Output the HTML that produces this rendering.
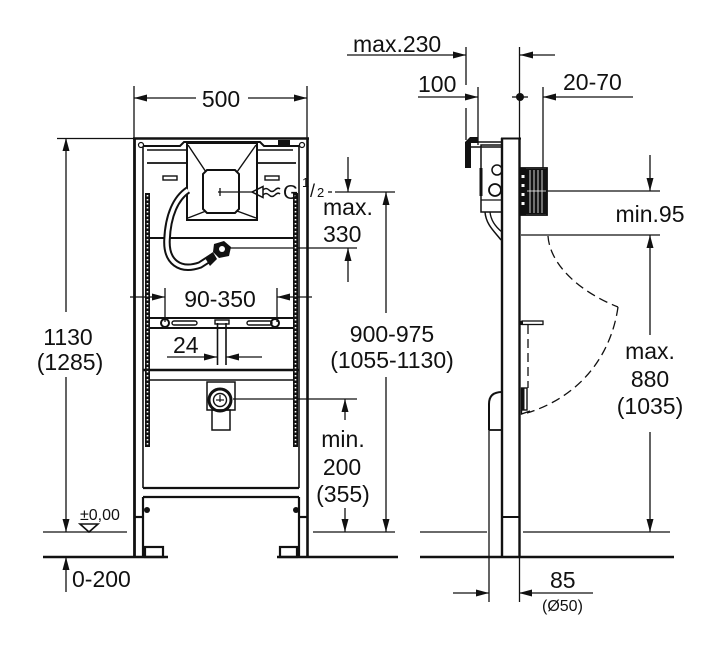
<!DOCTYPE html>
<html><head><meta charset="utf-8"><style>
html,body{margin:0;padding:0;background:#fff;}
svg{display:block;}
text{font-family:"Liberation Sans",Arial,sans-serif;fill:#111;font-size:23px;}
</style></head><body>
<svg width="720" height="649" viewBox="0 0 720 649" xmlns="http://www.w3.org/2000/svg">
<rect width="720" height="649" fill="#fff"/>

<!-- ===== LEFT: dimension lines ===== -->
<g stroke="#111" fill="none" stroke-width="1.3">
  <line x1="134" y1="86" x2="134" y2="138"/>
  <line x1="307" y1="86" x2="307" y2="138"/>
  <line x1="134" y1="98" x2="196" y2="98"/>
  <line x1="248" y1="98" x2="307" y2="98"/>
  <line x1="57" y1="138.5" x2="134" y2="138.5"/>
  <line x1="66" y1="138" x2="66" y2="312"/>
  <line x1="66" y1="377" x2="66" y2="532"/>
  <line x1="66" y1="557" x2="66" y2="592"/>
  <line x1="43" y1="532" x2="127" y2="532"/>
  <line x1="313" y1="532" x2="395" y2="532"/>
  <!-- 90-350 -->
  <line x1="165" y1="288" x2="165" y2="322"/>
  <line x1="277" y1="288" x2="277" y2="322"/>
  <line x1="130" y1="297" x2="165" y2="297"/>
  <line x1="277" y1="297" x2="312" y2="297"/>
  <!-- 24 -->
  <line x1="167" y1="357" x2="217" y2="357"/>
  <line x1="226" y1="357" x2="262" y2="357"/>
  <!-- max 330 -->
  <line x1="335" y1="192" x2="395" y2="192"/>
  <line x1="348" y1="157" x2="348" y2="192"/>
  <line x1="230" y1="248" x2="357" y2="248"/>
  <line x1="348" y1="248" x2="348" y2="282"/>
  <!-- 900-975 -->
  <line x1="386" y1="192" x2="386" y2="313"/>
  <line x1="386" y1="377" x2="386" y2="532"/>
  <!-- min 200 -->
  <line x1="233" y1="399" x2="357" y2="399"/>
  <line x1="345" y1="399" x2="345" y2="420"/>
  <line x1="345" y1="508" x2="345" y2="532"/>
  <polygon points="80,524 98,524 89,532" stroke-width="1.6"/>
  <line x1="218" y1="192" x2="253" y2="192"/>
  <line x1="220" y1="188" x2="220" y2="196"/>
</g>
<line x1="43" y1="557" x2="168" y2="557" stroke="#111" stroke-width="2.6"/>
<line x1="277" y1="557" x2="398" y2="557" stroke="#111" stroke-width="2.6"/>

<!-- ===== LEFT: frame ===== -->
<g stroke="#111" fill="none" stroke-width="2.2">
  <line x1="133" y1="138.5" x2="309" y2="138.5" stroke-width="2.6"/>
  <line x1="134.5" y1="138" x2="134.5" y2="557" stroke-width="2.8"/>
  <line x1="307.5" y1="138" x2="307.5" y2="557" stroke-width="2.6"/>
  <line x1="143" y1="146" x2="143" y2="488" stroke-width="1.6"/>
  <line x1="143" y1="497" x2="143" y2="557"/>
  <line x1="299" y1="146" x2="299" y2="488" stroke-width="1.6"/>
  <line x1="299" y1="497" x2="299" y2="557"/>
  <line x1="143" y1="488" x2="299" y2="488"/>
  <line x1="143" y1="497" x2="299" y2="497"/>
  <line x1="135" y1="517" x2="143" y2="517"/>
  <line x1="299" y1="517" x2="308" y2="517"/>
  <rect x="145" y="547" width="18" height="10"/>
  <rect x="280" y="547" width="17" height="10"/>
  <polyline points="143,146 180,146 184,142 260,142 264,146 299,146" stroke-width="2"/>
  <!-- rails -->
  <line x1="147" y1="150" x2="187" y2="150" stroke-width="1.6"/>
  <line x1="257" y1="150" x2="293" y2="150" stroke-width="1.6"/>
  <line x1="147" y1="163" x2="187" y2="163" stroke-width="1.8"/>
  <line x1="257" y1="163" x2="296" y2="163" stroke-width="1.8"/>
  <rect x="163" y="176" width="14" height="4" stroke-width="1.4"/>
  <rect x="265" y="176" width="14" height="4" stroke-width="1.4"/>
  <line x1="150" y1="238" x2="293" y2="238" stroke-width="2"/>
  <!-- bracket -->
  <line x1="150" y1="318" x2="293" y2="318" stroke-width="2"/>
  <line x1="150" y1="328" x2="293" y2="328" stroke-width="2"/>
  <rect x="172" y="321" width="25" height="4" rx="2" stroke-width="1.4"/>
  <rect x="247" y="321" width="25" height="4" rx="2" stroke-width="1.4"/>
  <circle cx="165" cy="323" r="4" stroke-width="2"/>
  <circle cx="275" cy="323" r="4" stroke-width="2"/>
  <line x1="217.5" y1="323" x2="217.5" y2="365" stroke-width="1.6"/>
  <line x1="226" y1="323" x2="226" y2="365" stroke-width="1.6"/>
  <rect x="215" y="320" width="14" height="4" stroke-width="1.4"/>
  <line x1="143" y1="370" x2="299" y2="370" stroke-width="2.6"/>
  <line x1="150" y1="380" x2="293" y2="380" stroke-width="1.6"/>
  <!-- outlet -->
  <rect x="207" y="382" width="28" height="28" stroke-width="1.5"/>
  <circle cx="220" cy="400" r="11" stroke-width="3"/>
  <circle cx="220" cy="400" r="6.5" stroke-width="1.4"/>
  <line x1="220" y1="395" x2="220" y2="402" stroke-width="1.2"/>
  <line x1="216" y1="400" x2="224" y2="400" stroke-width="1.2"/>
  <rect x="212" y="410" width="18" height="20" stroke-width="1.5"/>
  <!-- flush box -->
  <rect x="187" y="143" width="70" height="77" stroke-width="2"/>
  <polygon points="207,170 235,170 239,174 239,209 235,213 207,213 203,209 203,174" stroke-width="2"/>
  <line x1="188" y1="145" x2="206" y2="172" stroke-width="1.4"/>
  <line x1="256" y1="145" x2="237" y2="172" stroke-width="1.4"/>
  <line x1="188" y1="218" x2="206" y2="211" stroke-width="1.4"/>
  <line x1="256" y1="218" x2="237" y2="211" stroke-width="1.4"/>
  <polygon points="252,192 263,186.5 263,197.5" stroke-width="1.5"/>
  <path d="M263,190 q3,-3 6,0 t6,0 t5,-1 M263,195 q3,-3 6,0 t6,0 t5,-1" stroke-width="1.5"/>
  <line x1="328" y1="192" x2="332" y2="192" stroke-width="1.3"/>
</g>
<g fill="#111">
  <rect x="278" y="140" width="12" height="7"/>
  <circle cx="141" cy="145" r="2.5" fill="#fff" stroke="#111" stroke-width="1.2"/>
  <circle cx="302" cy="145" r="2.5" fill="#fff" stroke="#111" stroke-width="1.2"/>
  <rect x="145" y="193" width="5" height="254"/>
  <rect x="293" y="193" width="5" height="254"/>
  <circle cx="147" cy="510" r="3"/>
  <circle cx="296" cy="510" r="3"/>
</g>
<g stroke="#fff" stroke-width="1.6" stroke-dasharray="1.5 2.5">
  <line x1="147.5" y1="195" x2="147.5" y2="445"/>
  <line x1="295.5" y1="195" x2="295.5" y2="445"/>
</g>
<!-- hose -->
<path d="M188,190 C176,198 168,215 167,240 C166,262 180,272 200,265 L214,256" stroke="#111" stroke-width="7.5" fill="none"/>
<path d="M188,190 C176,198 168,215 167,240 C166,262 180,272 200,265 L214,256" stroke="#fff" stroke-width="3.5" fill="none"/>
<g fill="#111">
  <polygon points="214,244 224,241 231,247 229,256 219,258 213,252"/>
  <polygon points="205,258 213,252 217,259 210,266"/>
</g>
<circle cx="222" cy="249" r="3" fill="#fff"/>

<!-- ===== RIGHT: side view ===== -->
<g stroke="#111" fill="none" stroke-width="1.3">
  <line x1="347" y1="55" x2="466" y2="55"/>
  <line x1="466" y1="47" x2="466" y2="85"/>
  <line x1="466" y1="108" x2="466" y2="140"/>
  <line x1="520" y1="55" x2="555" y2="55"/>
  <line x1="519.5" y1="47" x2="519.5" y2="138"/>
  <line x1="418" y1="97" x2="478" y2="97"/>
  <line x1="478" y1="87" x2="478" y2="145"/>
  <line x1="512" y1="97" x2="528" y2="97"/>
  <line x1="543" y1="97" x2="633" y2="97"/>
  <line x1="543" y1="87" x2="543" y2="168"/>
  <line x1="650" y1="155" x2="650" y2="191"/>
  <line x1="650" y1="235" x2="650" y2="335"/>
  <line x1="650" y1="432" x2="650" y2="532"/>
  <line x1="547" y1="191" x2="660" y2="191"/>
  <line x1="521" y1="235" x2="660" y2="235"/>
  <line x1="420" y1="532" x2="487" y2="532"/>
  <line x1="523" y1="532" x2="670" y2="532"/>
  <line x1="453" y1="593" x2="489" y2="593"/>
  <line x1="519" y1="593" x2="593" y2="593"/>
  <line x1="489" y1="430" x2="489" y2="602"/>
  <line x1="519.5" y1="557" x2="519.5" y2="602"/>
  <path d="M548,236 C550,265 580,292 618,307" stroke-dasharray="9,5"/>
  <path d="M618,307 C612,350 585,395 527,413" stroke-dasharray="9,5"/>
  <line x1="528" y1="325" x2="528" y2="388" stroke-dasharray="9,5"/>
  <rect x="522" y="321" width="21" height="3.5"/>
</g>
<line x1="420" y1="557" x2="674" y2="557" stroke="#111" stroke-width="2.6"/>
<g stroke="#111" fill="none" stroke-width="2.4">
  <line x1="502" y1="138" x2="502" y2="557"/>
  <line x1="519.5" y1="138" x2="519.5" y2="557"/>
  <line x1="501" y1="138.5" x2="521" y2="138.5" stroke-width="2"/>
  <line x1="502" y1="517" x2="519" y2="517" stroke-width="2"/>
  <path d="M489,430 L489,404 Q489,392 502,392" stroke-width="2"/>
  <line x1="489" y1="430" x2="502" y2="430" stroke-width="1.8"/>
  <rect x="481" y="145" width="21" height="67" stroke-width="1.5"/>
  <line x1="471" y1="142" x2="502" y2="142" stroke-width="1.4"/>
  <line x1="471" y1="147" x2="502" y2="147" stroke-width="1.4"/>
  <circle cx="497" cy="170" r="5" stroke-width="1.5"/>
  <circle cx="495" cy="190" r="6" stroke-width="1.8"/>
  <path d="M485,212 C486,225 495,232 501,240" stroke-width="1.5"/>
  <path d="M490,212 C491,222 497,228 502,232" stroke-width="1.3"/>
  <line x1="481" y1="168" x2="481" y2="196" stroke-width="3"/>
  <line x1="481" y1="200" x2="502" y2="200" stroke-width="1.3"/>
  <rect x="520" y="168" width="27" height="47" stroke-width="1.8"/>
  <rect x="521.5" y="388" width="5.5" height="22" stroke-width="1.4"/>
  <path d="M521.5,410 L521.5,414 L530,411" stroke-width="1.4"/>
</g>
<g fill="#111">
  <path d="M465,168 L465,142 L470,137 L478,137 L478,143 L471,143 L471,168 Z"/>
  <rect x="526" y="169" width="21" height="45"/>
  <rect x="520" y="168" width="6" height="47"/>
  <rect x="520" y="321" width="3" height="4"/>
  <rect x="521.5" y="388" width="3" height="22"/>
  <circle cx="520" cy="97" r="4"/>
</g>
<g stroke="#fff" stroke-width="0.8">
  <line x1="530" y1="170" x2="530" y2="213"/>
  <line x1="534" y1="170" x2="534" y2="213"/>
  <line x1="538" y1="170" x2="538" y2="213"/>
  <line x1="542" y1="170" x2="542" y2="213"/>
  <line x1="527" y1="191" x2="546" y2="191"/>
</g>
<g fill="#fff">
  <rect x="521.5" y="175" width="3" height="3"/>
  <rect x="521.5" y="184" width="3" height="3"/>
  <rect x="521.5" y="193" width="3" height="3"/>
  <rect x="521.5" y="202" width="3" height="3"/>
</g>

<!-- ===== arrows ===== -->
<g fill="#111">
  <polygon points="134,98 147,94.5 147,101.5"/>
  <polygon points="307,98 294,94.5 294,101.5"/>
  <polygon points="66,138 62.5,151 69.5,151"/>
  <polygon points="66,532 62.5,519 69.5,519"/>
  <polygon points="66,557 62.5,570 69.5,570"/>
  <polygon points="165,297 152,293.5 152,300.5"/>
  <polygon points="277,297 290,293.5 290,300.5"/>
  <polygon points="217,357 204,353.5 204,360.5"/>
  <polygon points="226,357 239,353.5 239,360.5"/>
  <polygon points="348,192 344.5,179 351.5,179"/>
  <polygon points="348,248 344.5,261 351.5,261"/>
  <polygon points="386,192 382.5,205 389.5,205"/>
  <polygon points="386,532 382.5,519 389.5,519"/>
  <polygon points="345,399 341.5,412 348.5,412"/>
  <polygon points="345,532 341.5,519 348.5,519"/>
  <polygon points="466,55 453,51.5 453,58.5"/>
  <polygon points="520,55 533,51.5 533,58.5"/>
  <polygon points="478,97 465,93.5 465,100.5"/>
  <polygon points="543,97 556,93.5 556,100.5"/>
  <polygon points="650,191 646.5,178 653.5,178"/>
  <polygon points="650,235 646.5,248 653.5,248"/>
  <polygon points="650,532 646.5,519 653.5,519"/>
  <polygon points="489,593 476,589.5 476,596.5"/>
  <polygon points="519,593 532,589.5 532,596.5"/>
</g>

<!-- ===== text ===== -->
<text x="221" y="107" text-anchor="middle">500</text>
<text x="68" y="345" text-anchor="middle">1130</text>
<text x="70" y="370" text-anchor="middle">(1285)</text>
<text x="72" y="587">0-200</text>
<text x="80" y="520" style="font-size:16px">±0,00</text>
<text x="220" y="307" text-anchor="middle">90-350</text>
<text x="173" y="353">24</text>
<text x="283" y="199" style="font-size:20px">G</text>
<text x="302" y="187" style="font-size:13px">1</text>
<text x="310" y="197" style="font-size:18px">/</text>
<text x="317" y="197" style="font-size:13px">2</text>
<text x="323" y="215">max.</text>
<text x="323" y="242">330</text>
<text x="392" y="342" text-anchor="middle">900-975</text>
<text x="392" y="368" text-anchor="middle">(1055-1130)</text>
<text x="343" y="447" text-anchor="middle">min.</text>
<text x="342" y="475" text-anchor="middle">200</text>
<text x="343" y="502" text-anchor="middle">(355)</text>
<text x="353" y="52">max.230</text>
<text x="418" y="92">100</text>
<text x="563" y="90">20-70</text>
<text x="650" y="222" text-anchor="middle">min.95</text>
<text x="650" y="359" text-anchor="middle">max.</text>
<text x="650" y="387" text-anchor="middle">880</text>
<text x="650" y="414" text-anchor="middle">(1035)</text>
<text x="550" y="588">85</text>
<text x="542" y="611" style="font-size:16px">(Ø50)</text>
</svg>
</body></html>
